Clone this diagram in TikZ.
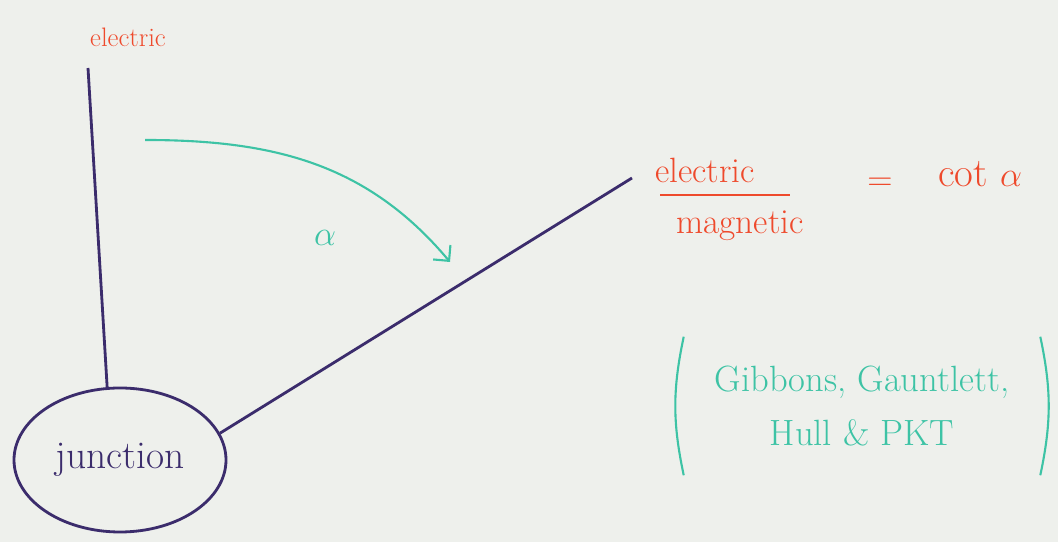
\documentclass[tikz,border=0pt]{standalone}
\usepackage{xcolor}
\usepackage{tikz}
\usetikzlibrary{arrows.meta}
\usetikzlibrary{shapes.geometric}

\definecolor{inkred}{HTML}{EE4A2C}
\definecolor{inkteal}{HTML}{3DC3A5}
\definecolor{inkpurple}{HTML}{3B2C6C}
\definecolor{paper}{HTML}{EEF0EC}

\begin{document}
\begin{tikzpicture}[>={Straight Barb[length=8pt,width=16pt]},
  wire/.style={draw=inkpurple, line width=2pt},
  hint/.style={draw=inkteal, line width=1.5pt},
  redtext/.style={text=inkred, font=\fontsize{25}{28}\selectfont},
  tealtext/.style={text=inkteal, align=center, font=\fontsize{26}{38}\selectfont},
  bubble/.style={ellipse, draw=inkpurple, line width=2pt, minimum width=5.3cm, minimum height=3.6cm, inner sep=0pt, text=inkpurple, font=\fontsize{28}{30}\selectfont}]

  \fill[paper] (0,0) rectangle (26.45,13.55);

  \node[redtext, font=\fontsize{19}{22}\selectfont] (elec) at (3.2,12.625) {electric};
  \node[bubble] (junc) at (3.0,2.05) {junction};
  \coordinate (etop) at (2.2,11.85);
  \coordinate (mtip) at (15.8,9.1);

  \draw[wire] (etop) -- (junc.100);
  \draw[wire] (junc.15) -- (mtip);

  \coordinate (swing) at (3.625,10.05);
  \coordinate (hit) at (11.25,7.0);
  \draw[hint, ->] (swing) to[out=0, in=130] (hit);
  \node[tealtext, font=\fontsize{26}{28}\selectfont] (alpha) at (8.125,7.6) {$\alpha$};

  \node[redtext] (num) at (17.625,9.3) {electric};
  \node[redtext] (den) at (18.5,7.9) {magnetic};
  \draw[inkred, line width=2pt] (16.5,8.675) -- (19.75,8.675);
  \node[redtext] (eq) at (22.0,8.95) {$=$};
  \node[redtext, font=\fontsize{29}{32}\selectfont] (cot) at (24.5,9.2) {cot $\alpha$};

  \node[tealtext, minimum width=8.9cm, minimum height=3.45cm] (refs) at (21.55,3.4) {Gibbons, Gauntlett,\\Hull \& PKT};
  \draw[hint] (refs.north west) to[bend right=12] (refs.south west);
  \draw[hint] (refs.north east) to[bend left=12] (refs.south east);
\end{tikzpicture}
\end{document}
